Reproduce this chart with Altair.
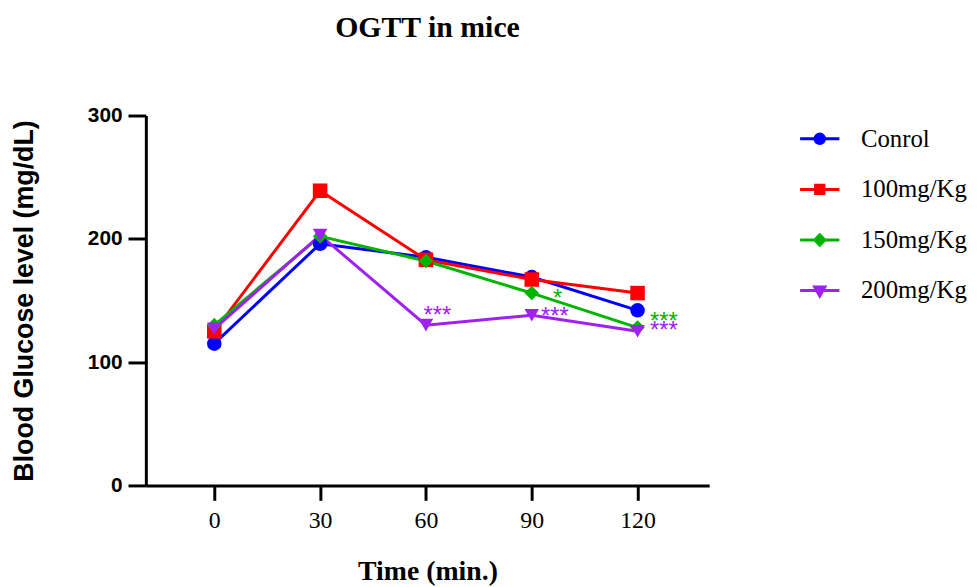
import altair as alt
import pandas as pd

times = [0, 30, 60, 90, 120]
series_names = ["Conrol", "100mg/Kg", "150mg/Kg", "200mg/Kg"]
control = [115, 196, 185, 169, 142]
dose100 = [125, 239, 183, 167, 156]
dose150 = [130, 202, 182, 156, 128]
dose200 = [127, 203, 130, 138, 125]
colors = ["#0000ff", "#ff0000", "#00b400", "#a020f0"]
shapes = ["circle", "square", "diamond", "triangle-down"]
legend_paths = [
    "M-3.3,0L3.3,0M-0.8,0A0.8,0.8,0,1,0,0.8,0A0.8,0.8,0,1,0,-0.8,0Z",
    "M-3.3,0L3.3,0M-0.7,-0.7H0.7V0.7H-0.7Z",
    "M-3.3,0L3.3,0M0,-0.85L0.85,0L0,0.85L-0.85,0Z",
    "M-3.3,0L3.3,0M-0.85,-0.6L0.85,-0.6L0,0.9Z",
]

# significance marks: series, position (time, glucose) of the label, text
ann_series = ["200mg/Kg", "200mg/Kg", "150mg/Kg", "150mg/Kg", "200mg/Kg"]
ann_time = [59.3, 92.6, 96.0, 123.5, 123.5]
ann_glucose = [131.5, 131.0, 145.5, 126.5, 119.5]
ann_text = ["***", "***", "*", "***", "***"]

rows = []
for name, vals in zip(series_names, [control, dose100, dose150, dose200]):
    for t, v in zip(times, vals):
        rows.append({"series": name, "leg": name, "time": t, "glucose": v})
df = pd.DataFrame(rows)

ann = pd.DataFrame({"series": ann_series, "time": ann_time, "glucose": ann_glucose,
                    "text": ann_text})

xscale = alt.Scale(domain=[-19.4, 140.3], nice=False, zero=False)
yscale = alt.Scale(domain=[0, 300], nice=False)
color = alt.Color("series:N", scale=alt.Scale(domain=series_names, range=colors), legend=None)

x_enc = alt.X("time:Q", scale=xscale,
              axis=alt.Axis(values=times, title="Time (min.)", grid=False,
                            labelFont="Liberation Serif", labelFontSize=24, labelColor="black",
                            labelPadding=8,
                            titleFont="Liberation Serif", titleFontSize=28, titleFontWeight="bold",
                            titlePadding=26, titleColor="black",
                            domainColor="black", domainWidth=3, tickColor="black",
                            tickWidth=3, tickSize=15))
y_enc = alt.Y("glucose:Q", scale=yscale,
              axis=alt.Axis(values=[0, 100, 200, 300], title="Blood Glucose level (mg/dL)", grid=False,
                            labelFont="Liberation Sans", labelFontSize=21, labelFontWeight="bold",
                            labelColor="black", labelPadding=6,
                            titleFont="Liberation Sans", titleFontSize=27, titleFontWeight="bold",
                            titleColor="black", titlePadding=49,
                            domainColor="black", domainWidth=3, tickColor="black",
                            tickWidth=3, tickSize=18))

base = alt.Chart(df)
lines = base.mark_line(strokeWidth=3).encode(x=x_enc, y=y_enc, color=color, detail="series:N")
points = base.mark_point(filled=True, opacity=1, size=215).encode(
    x="time:Q", y="glucose:Q", color=color,
    shape=alt.Shape("series:N", scale=alt.Scale(domain=series_names, range=shapes), legend=None))

leg_params = dict(title=None, orient="none", legendX=667, legendY=11,
                  labelFont="Liberation Serif", labelFontSize=25,
                  labelColor="black", labelOffset=29,
                  symbolSize=144, symbolStrokeWidth=3, symbolOpacity=1,
                  rowPadding=25, padding=0)
leg_color_scale = alt.Scale(domain=series_names, range=colors)
legend_layer = base.mark_point(filled=True, opacity=0, size=144).encode(
    x="time:Q", y="glucose:Q",
    color=alt.Color("leg:N", scale=leg_color_scale, legend=alt.Legend(**leg_params)),
    stroke=alt.Stroke("leg:N", scale=leg_color_scale, legend=alt.Legend(**leg_params)),
    shape=alt.Shape("leg:N", scale=alt.Scale(domain=series_names, range=legend_paths),
                    legend=alt.Legend(**leg_params)))

anns = alt.Chart(ann).mark_text(align="left", baseline="alphabetic", font="Liberation Sans", fontSize=24).encode(
    x="time:Q", y="glucose:Q", text="text:N", color=color)

chart = alt.layer(lines, points, legend_layer, anns).resolve_scale(
    shape="independent", color="independent", stroke="independent").properties(
    width=568, height=373,
    title=alt.TitleParams("OGTT in mice", font="Liberation Serif", fontSize=30, fontWeight="bold",
                          color="black", anchor="middle", offset=62),
    autosize=alt.AutoSizeParams(type="none"),
    padding={"left": 139, "top": 106, "right": 262, "bottom": 100},
).configure_view(stroke=None)

chart.save("out.html", embed_options={"renderer": "svg", "actions": False})
